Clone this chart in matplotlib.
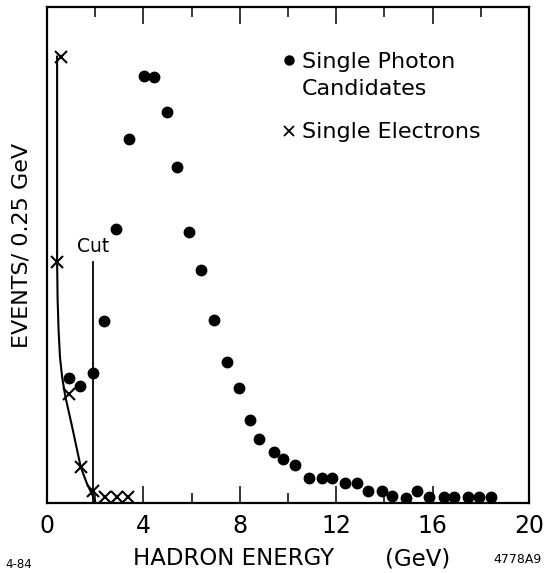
import matplotlib
matplotlib.use("Agg")
import matplotlib.pyplot as plt
from matplotlib.ticker import MultipleLocator

# single photon candidates (GeV, events / 0.25 GeV)
photon_e = [0.91, 1.37, 1.91, 2.37, 2.86, 3.40, 4.02, 4.44, 4.98, 5.39, 5.89, 6.39,
            6.93, 7.47, 7.97, 8.42, 8.80, 9.42, 9.79, 10.29, 10.87, 11.41, 11.83,
            12.37, 12.86, 13.32, 13.90, 14.32, 14.90, 15.35, 15.85, 16.47, 16.89,
            17.47, 17.93, 18.42]
photon_n = [20.2, 18.9, 21.0, 29.4, 44.2, 58.7, 68.9, 68.7, 63.1, 54.2, 43.7, 37.6,
            29.5, 22.7, 18.5, 13.4, 10.3, 8.2, 7.1, 6.1, 4.0, 4.0, 4.0,
            3.2, 3.2, 1.9, 1.9, 1.1, 0.8, 1.9, 1.0, 1.0, 1.0,
            1.0, 1.0, 1.0]

# single electrons
electron_e = [0.58, 0.40, 0.91, 1.41, 1.91, 2.41, 2.90, 3.36]
electron_n = [71.9, 38.9, 17.6, 5.8, 1.9, 1.0, 1.0, 1.0]

# hand-drawn electron curve
curve_e = [0.42, 0.42, 0.42, 0.43, 0.44, 0.48, 0.54, 0.63, 0.76, 1.06, 1.40, 1.65, 1.87, 2.00]
curve_n = [72.0, 55.0, 39.0, 36.0, 33.0, 28.0, 23.5, 20.3, 17.2, 12.0, 5.8, 3.2, 1.4, 0.3]

cut_e = 1.92
cut_top = 38.9

xticks_major = [0, 4, 8, 12, 16, 20]

fig = plt.figure(figsize=(5.45, 5.73), dpi=100)
ax = fig.add_axes([0.0862, 0.1222, 0.8844, 0.8656])

ax.plot(curve_e, curve_n, color="black", lw=1.5, zorder=2)
ax.plot([cut_e, cut_e], [0, cut_top], color="black", lw=1.3, zorder=2)
ax.text(1.24, 40.5, "Cut", fontsize=13.5, ha="left", va="baseline")

ax.plot(photon_e, photon_n, "o", color="black", ms=7.5, zorder=3)
ax.plot(electron_e, electron_n, "x", color="black", ms=8, mew=1.5, zorder=3)

# legend drawn as text
ax.plot([10.04], [71.5], "o", color="black", ms=6.5)
ax.text(10.58, 70.2, "Single Photon", fontsize=16, ha="left", va="baseline")
ax.text(10.58, 65.8, "Candidates", fontsize=16, ha="left", va="baseline")
ax.plot([10.04], [60.0], "x", color="black", ms=6.5, mew=1.3)
ax.text(10.58, 58.9, "Single Electrons", fontsize=16, ha="left", va="baseline")

ax.set_xlim(0, 20)
ax.set_ylim(0, 80)
ax.set_yticks([])
ax.xaxis.set_major_locator(MultipleLocator(4))
ax.xaxis.set_minor_locator(MultipleLocator(2))
ax.tick_params(axis="x", which="both", direction="in", top=True, bottom=True,
               labelsize=17, pad=8)
ax.tick_params(axis="x", which="major", length=12, width=1.1)
ax.tick_params(axis="x", which="minor", length=7, width=1.1)
ax.set_xticks(xticks_major)
ax.set_xticklabels([str(t) for t in xticks_major])
for s in ax.spines.values():
    s.set_linewidth(1.6)

fig.text(0.040, 0.572, "EVENTS/ 0.25 GeV", fontsize=16, rotation=90,
         ha="center", va="center")
fig.text(133 / 545, 1 - 565 / 573, "HADRON ENERGY", fontsize=16.5,
         ha="left", va="baseline")
fig.text(385 / 545, 1 - 565 / 573, "(GeV)", fontsize=16.5, ha="left", va="baseline")
fig.text(0.009, 0.004, "4-84", fontsize=8.5, ha="left", va="bottom")
fig.text(0.993, 0.012, "4778A9", fontsize=9, ha="right", va="bottom")

fig.savefig("out.png", dpi=100)
